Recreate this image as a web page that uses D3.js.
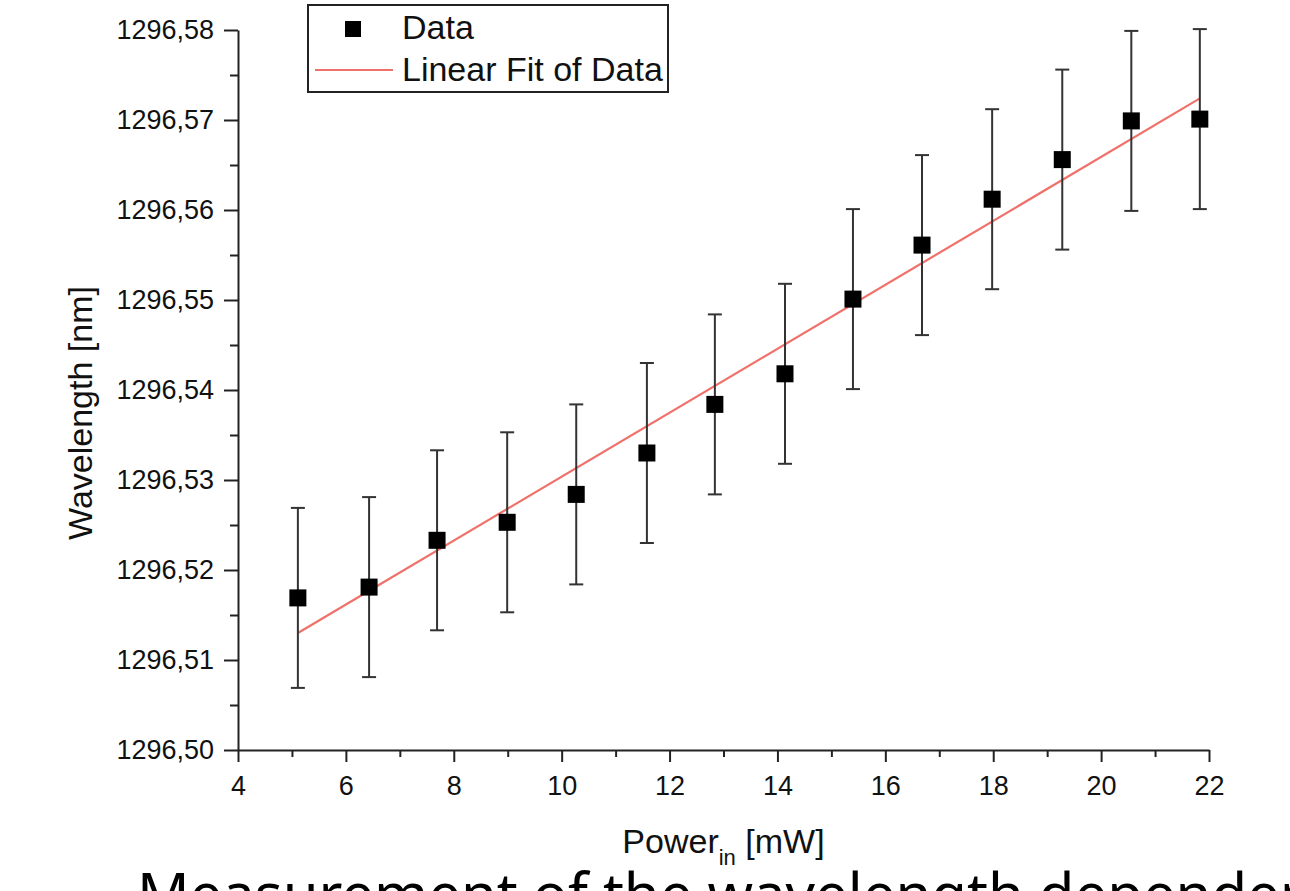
<!DOCTYPE html>
<html>
<head>
<meta charset="utf-8">
<script src="https://cdn.jsdelivr.net/npm/d3@7"></script>
<style>
  body { margin: 0; background: #fff; }
  svg { display: block; }
</style>
</head>
<body>
<script>
// data
const power = [5.11, 6.43, 7.69, 8.99, 10.27, 11.58, 12.84, 14.14, 15.40, 16.68, 17.98, 19.28, 20.56, 21.83];
const wavelength = [1296.5169, 1296.5181, 1296.5233, 1296.5253, 1296.5284, 1296.5330, 1296.5384,
                    1296.5418, 1296.5501, 1296.5561, 1296.5612, 1296.5656, 1296.5699, 1296.5701];
const errWavelength = [0.01, 0.01, 0.01, 0.01, 0.01, 0.01, 0.01, 0.01, 0.01, 0.01, 0.01, 0.01, 0.01, 0.01];
const fitX = [5.11, 21.83];
const fitY = [1296.5130, 1296.5724];
const xTicks = [4, 6, 8, 10, 12, 14, 16, 18, 20, 22];
const xMinor = [5, 7, 9, 11, 13, 15, 17, 19, 21];
const yTicks = [1296.50, 1296.51, 1296.52, 1296.53, 1296.54, 1296.55, 1296.56, 1296.57, 1296.58];
const yMinor = [1296.505, 1296.515, 1296.525, 1296.535, 1296.545, 1296.555, 1296.565, 1296.575];

const width = 1290, height = 891;
const svg = d3.select('body').append('svg')
    .attr('width', width)
    .attr('height', height);

svg.append('rect').attr('width', width).attr('height', height).attr('fill', '#fff');

const x = d3.scaleLinear().domain([4, 22]).range([238, 1209]);
const y = d3.scaleLinear().domain([1296.50, 1296.58]).range([750, 30]);

const font = 'Liberation Sans, Arial, sans-serif';
const axisColor = '#222';

// minor ticks
svg.append('g')
    .attr('transform', `translate(0,${y.range()[0]})`)
    .call(d3.axisBottom(x).tickValues(xMinor).tickSize(7).tickFormat('').tickSizeOuter(0))
    .call(g => g.select('.domain').remove());
svg.append('g')
    .attr('transform', `translate(${x.range()[0]},0)`)
    .call(d3.axisLeft(y).tickValues(yMinor).tickSize(8).tickFormat('').tickSizeOuter(0))
    .call(g => g.select('.domain').remove());

// major axes
const fmt = d => d3.format('.2f')(d).replace('.', ',');
const xAxis = svg.append('g')
    .attr('transform', `translate(0,${y.range()[0]})`)
    .call(d3.axisBottom(x).tickValues(xTicks).tickSize(12).tickSizeOuter(0).tickPadding(14));
const yAxis = svg.append('g')
    .attr('transform', `translate(${x.range()[0]},0)`)
    .call(d3.axisLeft(y).tickValues(yTicks).tickSize(14).tickSizeOuter(0).tickPadding(10).tickFormat(fmt));

svg.selectAll('.tick line, .domain')
    .attr('stroke', axisColor)
    .attr('stroke-width', 2);
xAxis.selectAll('text').attr('font-family', font).attr('font-size', 27).attr('fill', '#111');
yAxis.selectAll('text').attr('font-family', font).attr('font-size', 27).attr('fill', '#111');

// axis titles
const xt = svg.append('text')
    .attr('x', (x.range()[0] + x.range()[1]) / 2)
    .attr('y', 853)
    .attr('text-anchor', 'middle')
    .attr('font-family', font)
    .attr('font-size', 34)
    .attr('fill', '#111');
xt.append('tspan').text('Power');
xt.append('tspan').text('in').attr('font-size', 22).attr('dy', 12);
xt.append('tspan').text(' [mW]').attr('dy', -12);

svg.append('text')
    .attr('transform', 'translate(92,413) rotate(-90)')
    .attr('text-anchor', 'middle')
    .attr('font-family', font)
    .attr('font-size', 34)
    .attr('fill', '#111')
    .text('Wavelength [nm]');

// linear fit
svg.append('line')
    .attr('x1', x(fitX[0])).attr('y1', y(fitY[0]))
    .attr('x2', x(fitX[1])).attr('y2', y(fitY[1]))
    .attr('stroke', '#f0706a')
    .attr('stroke-width', 2.2);

// error bars
const pts = power.map((p, i) => ({ p, w: wavelength[i], e: errWavelength[i] }));
const eb = svg.append('g').attr('stroke', '#333').attr('stroke-width', 2);
eb.selectAll('.bar').data(pts).join('line')
    .attr('x1', d => x(d.p)).attr('x2', d => x(d.p))
    .attr('y1', d => y(d.w - d.e)).attr('y2', d => y(d.w + d.e));
eb.selectAll('.capT').data(pts).join('line')
    .attr('x1', d => x(d.p) - 7).attr('x2', d => x(d.p) + 7)
    .attr('y1', d => y(d.w + d.e)).attr('y2', d => y(d.w + d.e));
eb.selectAll('.capB').data(pts).join('line')
    .attr('x1', d => x(d.p) - 7).attr('x2', d => x(d.p) + 7)
    .attr('y1', d => y(d.w - d.e)).attr('y2', d => y(d.w - d.e));

// markers
const sq = 17;
svg.append('g').selectAll('rect').data(pts).join('rect')
    .attr('x', d => x(d.p) - sq / 2)
    .attr('y', d => y(d.w) - sq / 2)
    .attr('width', sq).attr('height', sq)
    .attr('fill', '#000');

// legend
const lg = svg.append('g');
lg.append('rect')
    .attr('x', 308).attr('y', 5).attr('width', 360).attr('height', 87)
    .attr('fill', '#fff').attr('stroke', '#222').attr('stroke-width', 2);
lg.append('rect')
    .attr('x', 345).attr('y', 21).attr('width', 16).attr('height', 16).attr('fill', '#000');
lg.append('line')
    .attr('x1', 315).attr('x2', 393).attr('y1', 70).attr('y2', 70)
    .attr('stroke', '#f0706a').attr('stroke-width', 2.2);
lg.append('text').attr('x', 402).attr('y', 39)
    .attr('font-family', font).attr('font-size', 34).attr('fill', '#111').text('Data');
lg.append('text').attr('x', 402).attr('y', 81)
    .attr('font-family', font).attr('font-size', 34).attr('fill', '#111').text('Linear Fit of Data');

// slide caption, cut off at the bottom
svg.append('text')
    .attr('x', 137).attr('y', 915)
    .attr('font-family', 'Noto Sans, Open Sans, sans-serif')
    .attr('font-size', 58)
    .attr('fill', '#000')
    .text('Measurement of the wavelength dependence on the input power');
</script>
</body>
</html>
